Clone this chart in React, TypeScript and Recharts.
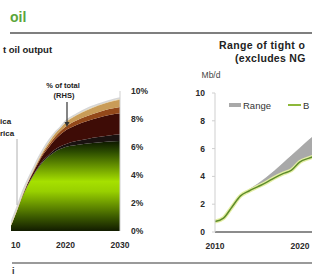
import React from 'react';
import { ComposedChart, Area, Line, XAxis, YAxis } from 'recharts';

// Left chart: tight oil output by region (stacked), % of total on RHS
const leftYears = [2010, 2011, 2012, 2013, 2014, 2015, 2016, 2017, 2018, 2019, 2020, 2022, 2024, 2026, 2028, 2030];
const usOutput = [0.4, 1.35, 2.35, 3.2, 3.9, 4.5, 5.0, 5.35, 5.65, 5.85, 6.0, 6.15, 6.25, 6.32, 6.39, 6.43];
const darkOutput = [0, 0.01, 0.02, 0.03, 0.05, 0.07, 0.1, 0.12, 0.15, 0.18, 0.2, 0.27, 0.33, 0.39, 0.44, 0.48];
const maroonOutput = [0, 0.02, 0.06, 0.12, 0.18, 0.29, 0.41, 0.55, 0.7, 0.84, 0.98, 1.16, 1.28, 1.38, 1.45, 1.5];
const brownOutput = [0, 0.01, 0.02, 0.04, 0.07, 0.1, 0.13, 0.17, 0.2, 0.24, 0.27, 0.32, 0.36, 0.4, 0.43, 0.45];
const tanOutput = [0.04, 0.05, 0.06, 0.08, 0.1, 0.13, 0.16, 0.2, 0.24, 0.28, 0.32, 0.38, 0.44, 0.49, 0.52, 0.55];
const pctOfTotal = [0.6, 1.6, 2.7, 3.6, 4.4, 5.2, 5.9, 6.5, 7.0, 7.4, 7.85, 8.35, 8.75, 9.05, 9.3, 9.5];
const leftXTicks = [2010, 2020, 2030];
const pctTicks = [0, 2, 4, 6, 8, 10];

// Right chart: range of tight oil output (excludes NGL)
const rightYears = [2010, 2011, 2012, 2013, 2014, 2015, 2016, 2017, 2018, 2019, 2020, 2021, 2022];
const baseCase = [0.75, 1.0, 1.8, 2.6, 2.95, 3.25, 3.55, 3.9, 4.2, 4.45, 5.05, 5.3, 5.5];
const rangeLow = [0.75, 1.0, 1.8, 2.6, 2.9, 3.2, 3.5, 3.85, 4.15, 4.45, 5.0, 5.25, 5.45];
const rangeHigh = [0.75, 1.0, 1.8, 2.65, 3.05, 3.45, 3.9, 4.4, 4.95, 5.5, 6.05, 6.6, 7.1];
const rightXTicks = [2010, 2020, 2030];
const mbdTicks = [0, 2, 4, 6, 8, 10];

const leftData = leftYears.map((y, i) => ({
  year: y,
  us: usOutput[i],
  dark: darkOutput[i],
  maroon: maroonOutput[i],
  brown: brownOutput[i],
  tan: tanOutput[i],
  pct: pctOfTotal[i],
}));

const rightData = rightYears.map((y, i) => ({
  year: y,
  base: baseCase[i],
  range: [rangeLow[i], rangeHigh[i]],
}));

const FONT = '"Liberation Sans", Arial, sans-serif';
const tickStyle = { fontSize: 8.5, fill: '#2a2a2a', fontFamily: FONT, fontWeight: 'bold' as const };

export default function App() {
  return (
    <div
      style={{
        position: 'fixed',
        left: 0,
        top: 0,
        width: 312,
        height: 275,
        overflow: 'hidden',
        background: '#ffffff',
        fontFamily: FONT,
      }}
    >
      {/* Left chart (clipped on its left at x=11) */}
      <div style={{ position: 'absolute', left: 11, top: 0, width: 150, height: 275, overflow: 'hidden' }}>
        <div style={{ position: 'absolute', left: -20, top: 0 }}>
          <ComposedChart width={169} height={275} data={leftData} margin={{ top: 91, right: 0, bottom: 14, left: 20 }}>
            <defs>
              <linearGradient id="usGrad" x1="0" y1="0" x2="0" y2="1">
                <stop offset="0" stopColor="#0c1600" />
                <stop offset="0.12" stopColor="#2c4c00" />
                <stop offset="0.45" stopColor="#a6e000" />
                <stop offset="0.56" stopColor="#98d000" />
                <stop offset="0.85" stopColor="#3a5800" />
                <stop offset="1" stopColor="#121c00" />
              </linearGradient>
            </defs>
            <XAxis
              dataKey="year"
              type="number"
              domain={[2010, 2030]}
              ticks={leftXTicks}
              interval={0}
              axisLine={false}
              tickLine={false}
              tickSize={0}
              tickMargin={11}
              tick={tickStyle}
            />
            <YAxis yAxisId="mb" hide domain={[0, 10]} />
            <YAxis
              yAxisId="pct"
              orientation="right"
              width={40}
              domain={[0, 10]}
              ticks={pctTicks}
              interval={0}
              tickFormatter={(v: number) => `${v}%`}
              axisLine={{ stroke: '#cfcfcf', strokeWidth: 1 }}
              tickLine={false}
              tickSize={0}
              tickMargin={11}
              tick={{ ...tickStyle, textAnchor: 'start' }}
            />
            <Area yAxisId="mb" type="monotone" dataKey="us" stackId="s" fill="url(#usGrad)" fillOpacity={1} stroke="none" isAnimationActive={false} />
            <Area yAxisId="mb" type="monotone" dataKey="dark" stackId="s" fill="#1a1210" fillOpacity={1} stroke="none" isAnimationActive={false} />
            <Area yAxisId="mb" type="monotone" dataKey="maroon" stackId="s" fill="#3e0c06" fillOpacity={1} stroke="none" isAnimationActive={false} />
            <Area yAxisId="mb" type="monotone" dataKey="brown" stackId="s" fill="#93481a" fillOpacity={1} stroke="none" isAnimationActive={false} />
            <Area yAxisId="mb" type="monotone" dataKey="tan" stackId="s" fill="#c99c58" fillOpacity={1} stroke="#ead9b2" strokeWidth={1} isAnimationActive={false} />
            <Line yAxisId="pct" type="monotone" dataKey="pct" stroke="#d6d6d6" strokeWidth={1.5} dot={false} isAnimationActive={false} />
          </ComposedChart>
        </div>
      </div>

      {/* Right chart (extends past the right edge) */}
      <div style={{ position: 'absolute', left: 170, top: 0 }}>
        <ComposedChart width={257.5} height={275} data={rightData} margin={{ top: 93, right: 0, bottom: 13, left: 0 }}>
          <XAxis
            dataKey="year"
            type="number"
            domain={[2010, 2035]}
            ticks={rightXTicks}
            interval={0}
            axisLine={{ stroke: '#8c8c8c', strokeWidth: 2 }}
            tickLine={false}
            tickSize={0}
            tickMargin={11}
            tick={tickStyle}
          />
          <YAxis
            width={45}
            domain={[0, 10]}
            ticks={mbdTicks}
            interval={0}
            axisLine={{ stroke: '#cfcfcf', strokeWidth: 1 }}
            tickLine={{ stroke: '#cfcfcf' }}
            tickSize={3}
            tickMargin={7}
            tick={tickStyle}
          />
          <Area type="monotone" dataKey="range" fill="#a9a9a9" fillOpacity={1} stroke="#999999" strokeWidth={0.5} isAnimationActive={false} />
          <Line type="monotone" dataKey="base" stroke="#e4eea4" strokeWidth={4} dot={false} isAnimationActive={false} />
          <Line type="monotone" dataKey="base" stroke="#5e8c2a" strokeWidth={1.5} dot={false} isAnimationActive={false} />
        </ComposedChart>
      </div>

      {/* Titles, annotations, legend and rules */}
      <svg width={312} height={275} style={{ position: 'absolute', left: 0, top: 0, pointerEvents: 'none' }} fontFamily={FONT}>
        <text x={10} y={22} fontSize={14} fontWeight="bold" fill="#5aa53a">oil</text>
        <line x1={10} y1={33} x2={312} y2={33} stroke="#7f7f7f" strokeWidth={2} />
        <text x={3} y={53} fontSize={9.5} fontWeight="bold" fill="#222">t oil output</text>
        <text x={219} y={49} fontSize={10.5} fontWeight="bold" letterSpacing={0.4} fill="#222">Range of tight o</text>
        <text x={235} y={62} fontSize={10.5} fontWeight="bold" letterSpacing={0.3} fill="#222">(excludes NG</text>
        <text x={211} y={78} fontSize={8.5} textAnchor="middle" fill="#444">Mb/d</text>

        <text x={63} y={88} fontSize={7.5} fontWeight="bold" textAnchor="middle" fill="#222">% of total</text>
        <text x={64} y={98} fontSize={7.5} fontWeight="bold" textAnchor="middle" fill="#222">(RHS)</text>
        <line x1={67} y1={102} x2={67} y2={123} stroke="#333" strokeWidth={1.2} />
        <path d="M64.5,122 L69.5,122 L67,127 Z" fill="#333" />

        <text x={0} y={124} fontSize={8} fontWeight="bold" fill="#222">ica</text>
        <text x={0} y={136} fontSize={8} fontWeight="bold" fill="#222">rica</text>
        <line x1={17} y1={139} x2={17} y2={205} stroke="#b0b0b0" strokeWidth={1} />

        <rect x={229} y={103} width={12} height={4} fill="#a9a9a9" />
        <text x={243} y={108.5} fontSize={9.5} fill="#333">Range</text>
        <line x1={288} y1={105} x2={301} y2={105} stroke="#8db83a" strokeWidth={2} />
        <text x={303} y={108.5} fontSize={9.5} fill="#333">B</text>

        <line x1={12} y1={263} x2={312} y2={263} stroke="#9a9a9a" strokeWidth={2} />
        <text x={12} y={274} fontSize={9} fontWeight="bold" fill="#333">i</text>
      </svg>
    </div>
  );
}
